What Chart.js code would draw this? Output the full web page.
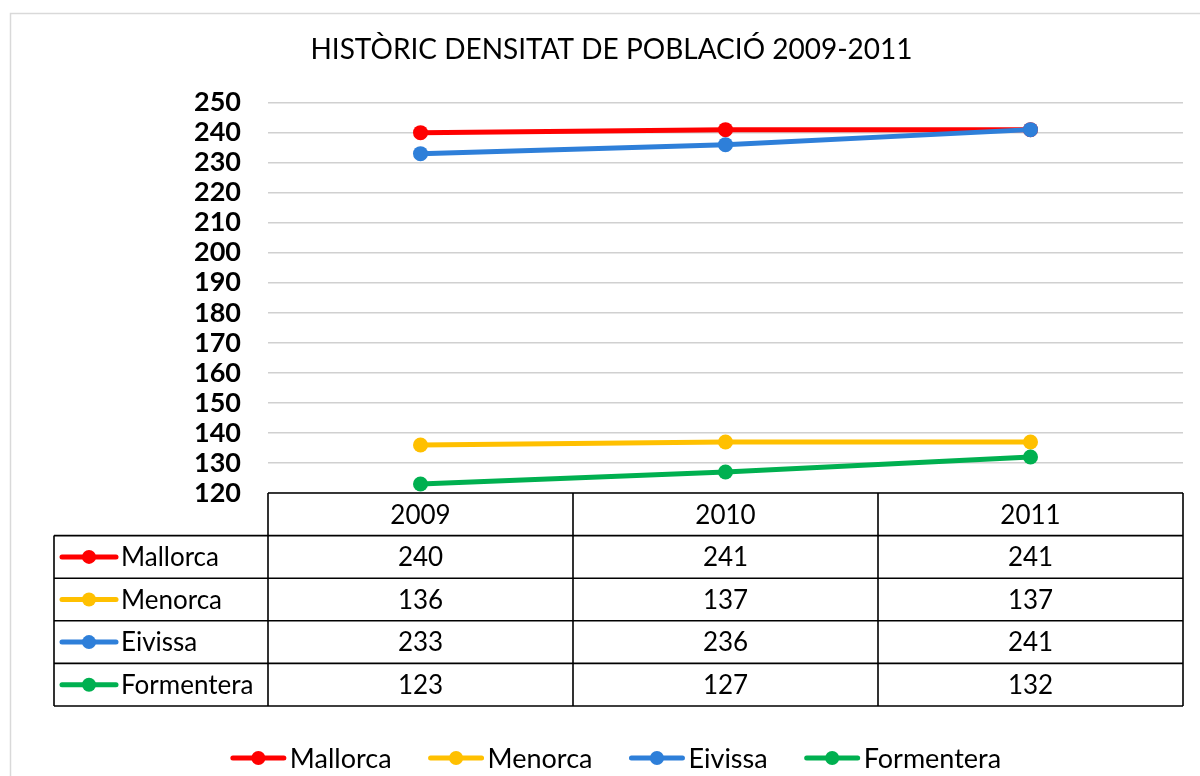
<!DOCTYPE html>
<html><head><meta charset="utf-8">
<script src="https://cdn.jsdelivr.net/npm/chart.js@4"></script>
<style>html,body{margin:0;padding:0;background:#fff;overflow:hidden}</style>
</head><body>
<canvas id="c" width="1200" height="776"></canvas>
<script>
const years = ['2009', '2010', '2011'];
const seriesNames = ['Mallorca', 'Menorca', 'Eivissa', 'Formentera'];
const mallorca = [240, 241, 241];
const menorca = [136, 137, 137];
const eivissa = [233, 236, 241];
const formentera = [123, 127, 132];
const seriesColors = ['#FF0000', '#FFC000', '#2E7FD9', '#00B050'];
const yMin = 120, yMax = 250, yStep = 10;
const titleText = 'HISTÒRIC DENSITAT DE POBLACIÓ 2009-2011';

const seriesValues = [mallorca, menorca, eivissa, formentera];
const FONT = 'Lato';

function drawMarker(ctx, x0, x1, y, color) {
  ctx.save();
  ctx.strokeStyle = color; ctx.lineWidth = 5; ctx.lineCap = 'round';
  ctx.beginPath(); ctx.moveTo(x0 + 2, y); ctx.lineTo(x1 - 2, y); ctx.stroke();
  ctx.fillStyle = color;
  ctx.beginPath(); ctx.arc((x0 + x1) / 2, y, 7, 0, Math.PI * 2); ctx.fill();
  ctx.restore();
}

const extras = {
  id: 'extras',
  beforeDraw(chart) {
    const ctx = chart.ctx;
    ctx.save();
    ctx.strokeStyle = '#d9d9d9'; ctx.lineWidth = 1.5;
    ctx.strokeRect(10.5, 13.5, 1240, 800);
    ctx.restore();
  },
  afterDraw(chart) {
    const ctx = chart.ctx;
    const ca = chart.chartArea;
    const xs = chart.scales.x;
    const n = years.length;
    const colW = (ca.right - ca.left) / n;
    const top = ca.bottom;
    const rowH = 42.6;
    const tableLeft = 54;
    const bottom = top + rowH * (seriesNames.length + 1);
    ctx.save();
    ctx.strokeStyle = '#000'; ctx.lineWidth = 1.6;
    ctx.beginPath();
    ctx.moveTo(ca.left, top); ctx.lineTo(ca.right, top);
    for (let k = 1; k <= seriesNames.length + 1; k++) {
      const y = top + rowH * k;
      ctx.moveTo(tableLeft, y); ctx.lineTo(ca.right, y);
    }
    ctx.moveTo(tableLeft, top + rowH); ctx.lineTo(tableLeft, bottom);
    for (let i = 0; i <= n; i++) {
      const x = ca.left + i * colW;
      ctx.moveTo(x, top); ctx.lineTo(x, bottom);
    }
    ctx.stroke();
    ctx.fillStyle = '#000';
    ctx.font = '26px ' + FONT;
    ctx.textBaseline = 'middle';
    ctx.textAlign = 'center';
    years.forEach((yr, i) => {
      ctx.fillText(yr, xs.getPixelForValue(i), top + rowH / 2 + 1);
    });
    seriesNames.forEach((name, r) => {
      const yc = top + rowH * (r + 1.5) + 1;
      drawMarker(ctx, 60, 118, yc - 1, seriesColors[r]);
      ctx.textAlign = 'left';
      ctx.fillStyle = '#000';
      ctx.fillText(name, 121, yc);
      ctx.textAlign = 'center';
      seriesValues[r].forEach((v, i) => {
        ctx.fillText(String(v), xs.getPixelForValue(i), yc);
      });
    });
    // legend
    const markW = 55, gap = 4, itemGap = 37;
    ctx.font = '27px ' + FONT;
    const widths = seriesNames.map(s => markW + gap + ctx.measureText(s).width);
    const total = widths.reduce((a, b) => a + b, 0) + itemGap * (seriesNames.length - 1);
    let x = 616 - total / 2;
    const ly = 758;
    seriesNames.forEach((name, i) => {
      drawMarker(ctx, x, x + markW, ly, seriesColors[i]);
      ctx.textAlign = 'left';
      ctx.fillStyle = '#000';
      ctx.fillText(name, x + markW + gap, ly + 1);
      x += widths[i] + itemGap;
    });
    ctx.restore();
  }
};

const datasets = seriesNames.map((name, i) => ({
  label: name,
  data: seriesValues[i],
  borderColor: seriesColors[i],
  backgroundColor: seriesColors[i],
  pointBackgroundColor: seriesColors[i],
  pointBorderColor: seriesColors[i],
  borderWidth: 5,
  pointRadius: 7.5,
  pointBorderWidth: 0,
  tension: 0,
  order: seriesNames.length - i
}));

new Chart(document.getElementById('c'), {
  type: 'line',
  data: { labels: years, datasets },
  options: {
    responsive: false,
    animation: false,
    layout: { padding: { left: 40, right: 17, top: 0, bottom: 283 } },
    plugins: {
      legend: { display: false },
      tooltip: { enabled: false },
      title: {
        display: true,
        text: titleText,
        color: '#000',
        font: { family: FONT, size: 28, weight: 'normal', lineHeight: 1.2 },
        padding: { top: 33, bottom: 36 }
      }
    },
    scales: {
      x: { type: 'category', display: false, offset: true },
      y: {
        min: yMin, max: yMax,
        afterFit(scale) { scale.width = 228; },
        border: { display: false },
        grid: { color: '#d0d0d0', lineWidth: 1.5, drawTicks: false },
        ticks: {
          stepSize: yStep, padding: 27, color: '#000', autoSkip: false,
          font: { family: FONT, size: 27, weight: 'bold' }
        }
      }
    }
  },
  plugins: [extras]
});
</script>
</body></html>
